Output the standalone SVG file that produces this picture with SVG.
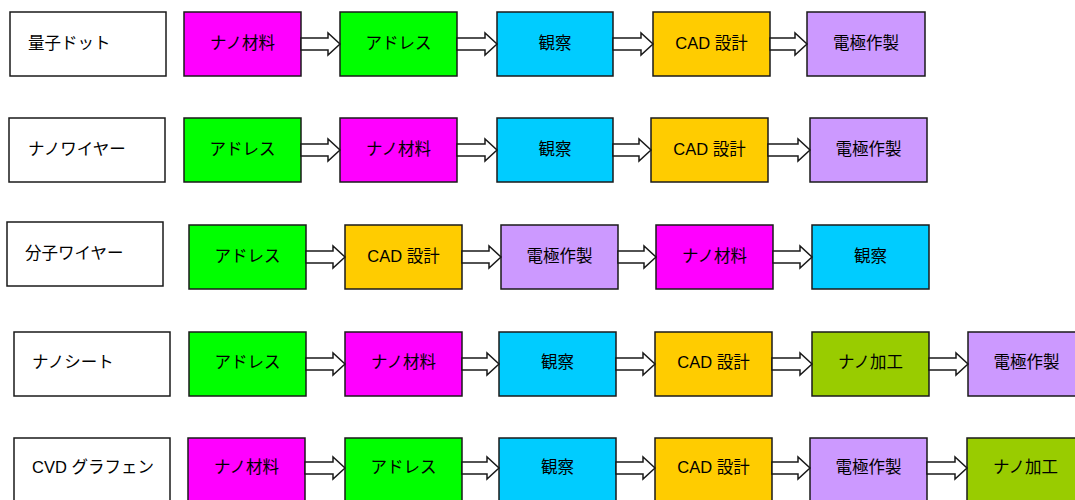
<svg xmlns="http://www.w3.org/2000/svg" width="1075" height="500" viewBox="0 0 1075 500">
<style>
rect{stroke:#1a1a1a;stroke-width:1.5}
.lbl{fill:#fff}
.mag{fill:#ff00ff}.grn{fill:#00ff00}.cyn{fill:#00ccff}.yel{fill:#ffcc00}.pur{fill:#cc99ff}.olv{fill:#99cc00}
text{font-family:"Liberation Sans","Noto Sans CJK JP",sans-serif;font-size:16.5px;fill:#000;dominant-baseline:central}
.c{text-anchor:middle}
.arr path{fill:#fff;stroke:#1a1a1a;stroke-width:1.5;stroke-linejoin:miter}
</style>
<g id="row1">
<g id="n1_0"><rect class="lbl" x="10" y="12" width="156" height="64"/><text x="28" y="43">量子ドット</text></g>
<g id="n1_1"><rect class="mag" x="184" y="12" width="117" height="64"/><text class="c" x="242.5" y="43">ナノ材料</text></g>
<g id="n1_2"><rect class="grn" x="340" y="12" width="117" height="64"/><text class="c" x="398.5" y="43">アドレス</text></g>
<g id="n1_3"><rect class="cyn" x="497" y="12" width="116" height="64"/><text class="c" x="555" y="43">観察</text></g>
<g id="n1_4"><rect class="yel" x="653" y="12" width="117" height="64"/><text class="c" x="711.5" y="43">CAD 設計</text></g>
<g id="n1_5"><rect class="pur" x="807" y="12" width="118" height="64"/><text class="c" x="866" y="43">電極作製</text></g>
</g>
<g id="row2">
<g id="n2_0"><rect class="lbl" x="9" y="118" width="156" height="64"/><text x="28" y="149">ナノワイヤー</text></g>
<g id="n2_1"><rect class="grn" x="184" y="118" width="117" height="64"/><text class="c" x="242.5" y="149">アドレス</text></g>
<g id="n2_2"><rect class="mag" x="340" y="118" width="117" height="64"/><text class="c" x="398.5" y="149">ナノ材料</text></g>
<g id="n2_3"><rect class="cyn" x="497" y="118" width="116" height="64"/><text class="c" x="555" y="149">観察</text></g>
<g id="n2_4"><rect class="yel" x="651" y="118" width="117" height="64"/><text class="c" x="709.5" y="149">CAD 設計</text></g>
<g id="n2_5"><rect class="pur" x="810" y="118" width="117" height="64"/><text class="c" x="868.5" y="149">電極作製</text></g>
</g>
<g id="row3">
<g id="n3_0"><rect class="lbl" x="7" y="222" width="156" height="64"/><text x="25" y="253">分子ワイヤー</text></g>
<g id="n3_1"><rect class="grn" x="189" y="225" width="117" height="64"/><text class="c" x="247.5" y="256">アドレス</text></g>
<g id="n3_2"><rect class="yel" x="345" y="225" width="117" height="64"/><text class="c" x="403.5" y="256">CAD 設計</text></g>
<g id="n3_3"><rect class="pur" x="501" y="225" width="117" height="64"/><text class="c" x="559.5" y="256">電極作製</text></g>
<g id="n3_4"><rect class="mag" x="656" y="225" width="117" height="64"/><text class="c" x="714.5" y="256">ナノ材料</text></g>
<g id="n3_5"><rect class="cyn" x="812" y="225" width="117" height="64"/><text class="c" x="870.5" y="256">観察</text></g>
</g>
<g id="row4">
<g id="n4_0"><rect class="lbl" x="14" y="332" width="156" height="64"/><text x="32" y="362">ナノシート</text></g>
<g id="n4_1"><rect class="grn" x="189" y="332" width="117" height="64"/><text class="c" x="247.5" y="362">アドレス</text></g>
<g id="n4_2"><rect class="mag" x="345" y="332" width="117" height="64"/><text class="c" x="403.5" y="362">ナノ材料</text></g>
<g id="n4_3"><rect class="cyn" x="499" y="332" width="117" height="64"/><text class="c" x="557.5" y="362">観察</text></g>
<g id="n4_4"><rect class="yel" x="655" y="332" width="117" height="64"/><text class="c" x="713.5" y="362">CAD 設計</text></g>
<g id="n4_5"><rect class="olv" x="812" y="332" width="117" height="64"/><text class="c" x="870.5" y="362">ナノ加工</text></g>
<g id="n4_6"><rect class="pur" x="968" y="332" width="117" height="64"/><text class="c" x="1026.5" y="362">電極作製</text></g>
</g>
<g id="row5">
<g id="n5_0"><rect class="lbl" x="14" y="438" width="156" height="64"/><text x="32" y="467">CVD グラフェン</text></g>
<g id="n5_1"><rect class="mag" x="188" y="438" width="117" height="64"/><text class="c" x="246.5" y="467">ナノ材料</text></g>
<g id="n5_2"><rect class="grn" x="345" y="438" width="117" height="64"/><text class="c" x="403.5" y="467">アドレス</text></g>
<g id="n5_3"><rect class="cyn" x="499" y="438" width="117" height="64"/><text class="c" x="557.5" y="467">観察</text></g>
<g id="n5_4"><rect class="yel" x="655" y="438" width="117" height="64"/><text class="c" x="713.5" y="467">CAD 設計</text></g>
<g id="n5_5"><rect class="pur" x="810" y="438" width="117" height="64"/><text class="c" x="868.5" y="467">電極作製</text></g>
<g id="n5_6"><rect class="olv" x="967" y="438" width="117" height="64"/><text class="c" x="1025.5" y="467">ナノ加工</text></g>
</g>
<g id="connectors" class="arr">
<path d="M301,38 H328 V33 L340,44 L328,55 V50 H301 Z"/>
<path d="M457,38 H485 V33 L497,44 L485,55 V50 H457 Z"/>
<path d="M613,38 H641 V33 L653,44 L641,55 V50 H613 Z"/>
<path d="M770,38 H795 V33 L807,44 L795,55 V50 H770 Z"/>

<path d="M301,144 H328 V139 L340,150 L328,161 V156 H301 Z"/>
<path d="M457,144 H485 V139 L497,150 L485,161 V156 H457 Z"/>
<path d="M613,144 H639 V139 L651,150 L639,161 V156 H613 Z"/>
<path d="M768,144 H798 V139 L810,150 L798,161 V156 H768 Z"/>

<path d="M306,251 H333 V246 L345,257 L333,268 V263 H306 Z"/>
<path d="M462,251 H489 V246 L501,257 L489,268 V263 H462 Z"/>
<path d="M618,251 H644 V246 L656,257 L644,268 V263 H618 Z"/>
<path d="M773,251 H800 V246 L812,257 L800,268 V263 H773 Z"/>

<path d="M306,358 H333 V353 L345,364 L333,375 V370 H306 Z"/>
<path d="M462,358 H487 V353 L499,364 L487,375 V370 H462 Z"/>
<path d="M616,358 H643 V353 L655,364 L643,375 V370 H616 Z"/>
<path d="M772,358 H800 V353 L812,364 L800,375 V370 H772 Z"/>
<path d="M929,358 H956 V353 L968,364 L956,375 V370 H929 Z"/>

<path d="M305,462 H333 V457 L345,468 L333,479 V474 H305 Z"/>
<path d="M462,462 H487 V457 L499,468 L487,479 V474 H462 Z"/>
<path d="M616,462 H643 V457 L655,468 L643,479 V474 H616 Z"/>
<path d="M772,462 H798 V457 L810,468 L798,479 V474 H772 Z"/>
<path d="M927,462 H955 V457 L967,468 L955,479 V474 H927 Z"/>
</g>
</svg>
